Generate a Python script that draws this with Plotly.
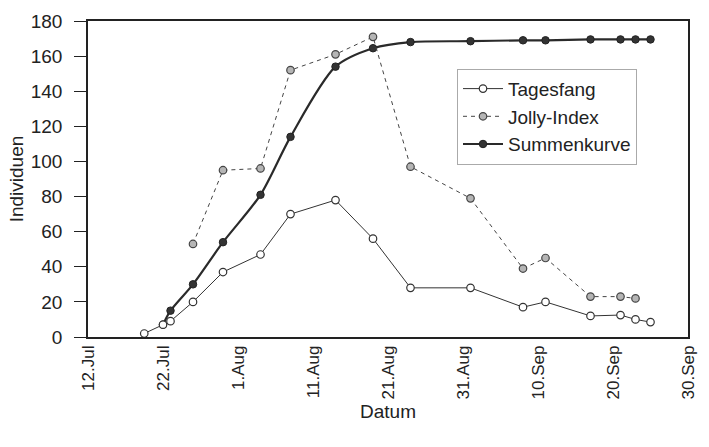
import plotly.graph_objects as go

# ---- data ----
tages_dates = ["2009-07-19 12:00", "2009-07-22", "2009-07-23", "2009-07-26", "2009-07-30",
               "2009-08-04", "2009-08-08", "2009-08-14", "2009-08-19", "2009-08-24",
               "2009-09-01", "2009-09-08", "2009-09-11", "2009-09-17", "2009-09-21",
               "2009-09-23", "2009-09-25"]
tages_vals = [2, 7, 9, 20, 37, 47, 70, 78, 56, 28, 28, 17, 20, 12, 12.5, 10, 8.5]

jolly_dates = ["2009-07-26", "2009-07-30", "2009-08-04", "2009-08-08", "2009-08-14",
               "2009-08-19", "2009-08-24", "2009-09-01", "2009-09-08", "2009-09-11",
               "2009-09-17", "2009-09-21", "2009-09-23"]
jolly_vals = [53, 95, 96, 152, 161, 171, 97, 79, 39, 45, 23, 23, 22]

summen_dates = ["2009-07-22", "2009-07-23", "2009-07-26", "2009-07-30", "2009-08-04",
                "2009-08-08", "2009-08-14", "2009-08-19", "2009-08-24", "2009-09-01",
                "2009-09-08", "2009-09-11", "2009-09-17", "2009-09-21", "2009-09-23",
                "2009-09-25"]
summen_vals = [7, 15, 30, 54, 81, 114, 154, 164.5, 168, 168.5, 169, 169, 169.5, 169.5,
               169.5, 169.5]

x_tickvals = ["2009-07-12", "2009-07-22", "2009-08-01", "2009-08-11", "2009-08-21",
              "2009-08-31", "2009-09-10", "2009-09-20", "2009-09-30"]
x_ticktext = ["12.Jul", "22.Jul", "1.Aug", "11.Aug", "21.Aug", "31.Aug", "10.Sep",
              "20.Sep", "30.Sep"]
y_tickvals = [0, 20, 40, 60, 80, 100, 120, 140, 160, 180]

FONT = "Liberation Sans, Arial, sans-serif"

fig = go.Figure()

fig.add_trace(go.Scatter(
    x=summen_dates, y=summen_vals, name="Summenkurve", mode="lines+markers",
    line=dict(color="#2a2a2a", width=2.2, shape="spline", smoothing=0.8),
    marker=dict(symbol="circle", size=7.5, color="#333333",
                line=dict(color="#222222", width=1)),
    legendrank=3,
))
fig.add_trace(go.Scatter(
    x=tages_dates, y=tages_vals, name="Tagesfang", mode="lines+markers",
    line=dict(color="#333333", width=1),
    marker=dict(symbol="circle", size=7.5, color="white",
                line=dict(color="#333333", width=1.2)),
    legendrank=1,
))
fig.add_trace(go.Scatter(
    x=jolly_dates, y=jolly_vals, name="Jolly-Index", mode="lines+markers",
    line=dict(color="#444444", width=1, dash="4px,4px"),
    marker=dict(symbol="circle", size=7.5, color="#b5b5b5",
                line=dict(color="#444444", width=1.2)),
    legendrank=2,
))

fig.update_layout(
    width=709, height=447,
    margin=dict(l=88, r=11, t=12, b=110),
    paper_bgcolor="white", plot_bgcolor="white",
    font=dict(family=FONT, size=18, color="#222222"),
    showlegend=True,
    legend=dict(
        x=0.615, y=0.697, xanchor="left", yanchor="middle",
        bordercolor="#aaaaaa", borderwidth=1, bgcolor="white",
        font=dict(size=19, family=FONT, color="#222222"),
        traceorder="normal", itemwidth=40,
    ),
)

fig.update_xaxes(
    type="date", range=["2009-07-12", "2009-09-30"],
    tickvals=x_tickvals, ticktext=x_ticktext, tickangle=-90,
    tickfont=dict(size=17, family=FONT, color="#222222"),
    ticks="", showgrid=False, zeroline=False,
    showline=True, linecolor="#222222", linewidth=1.5, mirror=True,
    title=dict(text="Datum", font=dict(size=19, family=FONT, color="#222222"), standoff=6),
)
fig.update_yaxes(
    range=[0, 180], tickvals=y_tickvals,
    tickfont=dict(size=19, family=FONT, color="#222222"),
    ticks="outside", ticklen=12, tickwidth=1.2, tickcolor="#222222",
    ticklabelstandoff=8,
    showgrid=False, zeroline=False,
    showline=True, linecolor="#222222", linewidth=1.5, mirror=True,
    title=dict(text="Individuen", font=dict(size=19, family=FONT, color="#222222"), standoff=2),
)

fig.write_html("out.html")
